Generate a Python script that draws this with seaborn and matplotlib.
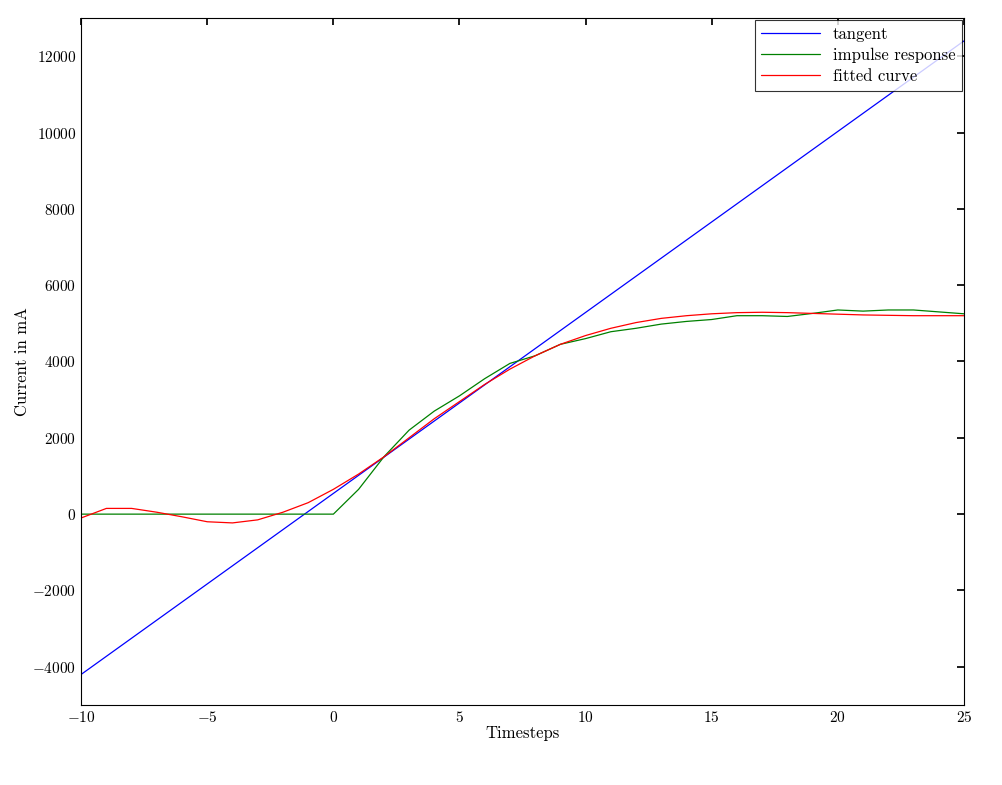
import numpy as np
import matplotlib
matplotlib.use("Agg")
import matplotlib.pyplot as plt
import seaborn as sns

sns.set_theme(style="white")
plt.rcParams['font.family'] = ['cmr10', 'DejaVu Serif']
plt.rcParams['mathtext.fontset'] = 'cm'
plt.rcParams['axes.formatter.use_mathtext'] = True
plt.rcParams['text.color'] = 'black'
plt.rcParams['axes.labelcolor'] = 'black'

tangent_x = [-10, 25]
tangent_y = [-4200, 12400]

steps = list(range(-10, 26))
impulse = [0] * 11 + [650, 1500, 2200, 2700, 3100, 3550, 3950, 4150, 4450, 4600,
                      4780, 4870, 4980, 5050, 5100, 5200, 5200, 5180, 5260, 5350,
                      5320, 5350, 5350, 5300, 5250]
fitted = [-100, 150, 150, 50, -70, -200, -230, -150, 50, 300, 650,
          1050, 1500, 2000, 2500, 2950, 3400, 3800, 4150, 4450, 4680,
          4870, 5020, 5130, 5200, 5250, 5280, 5290, 5280, 5260, 5240,
          5220, 5210, 5200, 5200, 5200]

fig = plt.figure(figsize=(10.02, 7.85), dpi=100)
ax = fig.add_axes([0.081, 0.102, 0.881, 0.875])
sns.lineplot(x=tangent_x, y=tangent_y, ax=ax, color='#0000ff', lw=0.9, label='tangent')
sns.lineplot(x=steps, y=impulse, ax=ax, color='#008000', lw=0.9, label='impulse response')
sns.lineplot(x=steps, y=fitted, ax=ax, color='#ff0000', lw=0.9, label='fitted curve')

ax.set_xlim(-10, 25)
ax.set_ylim(-5000, 13000)
ax.set_xticks(range(-10, 26, 5))
ax.set_yticks(range(-4000, 12001, 2000))
ax.tick_params(direction='in', top=True, right=True, length=5, labelsize=11, colors='black')
for s in ax.spines.values():
    s.set_color('black')
    s.set_linewidth(0.8)
ax.set_xlabel('Timesteps', fontsize=12, labelpad=1)
ax.set_ylabel('Current in mA', fontsize=12, labelpad=2)
leg = ax.legend(loc='upper right', fontsize=12, frameon=True, fancybox=False,
                edgecolor='black', borderaxespad=0.1, handlelength=3.5,
                labelspacing=0.35)
leg.get_frame().set_linewidth(0.8)
for t in leg.get_texts():
    t.set_color('black')
fig.savefig('out.png', dpi=100)
